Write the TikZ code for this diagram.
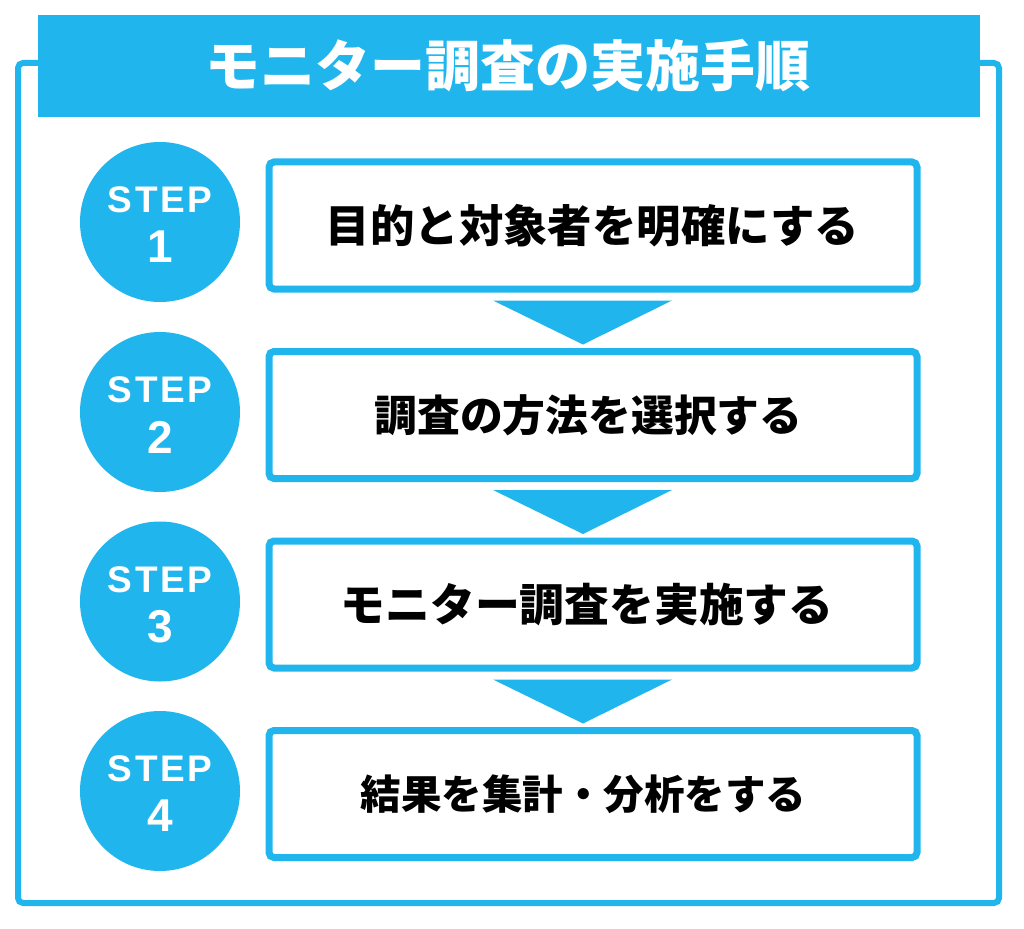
\documentclass[tikz,border=0pt]{standalone}
\usepackage{fontspec}
\newfontfamily\jp{Noto Sans CJK JP}
\newfontfamily\stepfont{Liberation Sans}
\definecolor{sky}{RGB}{32,182,237}
\tikzset{
  x=1pt,y=-1pt,
  frame/.style={draw=sky,line width=6pt,rounded corners=5pt},
  titlebar/.style={fill=sky},
  stepbox/.style={draw=sky,line width=7pt,rounded corners=5pt,minimum width=648pt,minimum height=127pt,inner sep=0pt,fill=white},
  stepcirc/.style={circle,fill=sky,minimum size=160pt,inner sep=0pt},
  boxtext/.style={font=\jp\bfseries,text=black},
  steplbl/.style={font=\stepfont\bfseries\fontsize{37}{40}\selectfont,text=white,inner sep=0pt},
  stepnum/.style={font=\stepfont\bfseries\fontsize{46}{50}\selectfont,text=white,inner sep=0pt},
  arrowtri/.style={fill=sky}
}
\begin{document}
\begin{tikzpicture}
\useasboundingbox (0,0) rectangle (1024,928);
\fill[white] (0,0) rectangle (1024,928);
% outer frame
\draw[frame] (18,63) rectangle (999,903);
% title bar
\fill[titlebar] (38,15) rectangle (980,117);
\node[font=\jp\bfseries\fontsize{55}{60}\selectfont,text=white] (title) at (508,66) {モニター調査の実施手順};
% boxes
\node[stepbox] (b1) at (593,225.5) {};
\node[stepbox] (b2) at (593,415) {};
\node[stepbox] (b3) at (593,604.5) {};
\node[stepbox] (b4) at (593,794) {};
\node[boxtext] (t1) at ([xshift=-0.5pt]b1.center) {\fontsize{44.4}{48}\selectfont 目的と対象者を明確にする};
\node[boxtext] (t2) at ([xshift=-4.5pt]b2.center) {\fontsize{42.8}{48}\selectfont 調査の方法を選択する};
\node[boxtext] (t3) at ([xshift=-6pt]b3.center) {\fontsize{44.8}{48}\selectfont モニター調査を実施する};
\node[boxtext] (t4) at ([xshift=-9.5pt]b4.center) {\fontsize{40.5}{48}\selectfont 結果を集計・分析をする};
% circles
\foreach \i/\y in {1/222,2/412,3/601.5,4/791}{
  \node[stepcirc] (c\i) at (160,\y) {};
  \node[steplbl] (s\i) at ([yshift=22pt]c\i.center) {S\kern2.5pt T\kern2.5pt E\kern2.5pt P};
  \node[stepnum] (n\i) at ([yshift=-25pt]c\i.center) {\i};
}
% triangles
\foreach \i in {1,2,3}{
  \fill[arrowtri] ([xshift=-100pt,yshift=-8pt]b\i.south) -- ([xshift=79pt,yshift=-8pt]b\i.south) -- ([xshift=-10pt,yshift=-52pt]b\i.south) -- cycle;
}
\end{tikzpicture}
\end{document}
